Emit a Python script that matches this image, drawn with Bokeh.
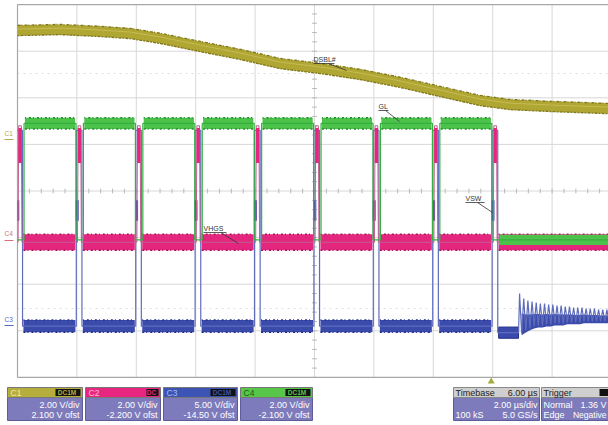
import numpy as np
from bokeh.plotting import figure
from bokeh.models import Range1d, Label
from bokeh.embed import file_html
from bokeh.resources import INLINE

# ---------------- data ----------------
channels    = ["C1", "C2", "C3", "C4"]
ch_vdiv     = [2.00, 2.00, 5.00, 2.00]          # V/div
ch_ofst     = [2.100, -2.200, -14.50, -2.100]   # V offset
ch_coupl    = ["DC1M", "DC", "DC1M", "DC1M"]
ch_vdiv_txt = ["2.00 V/div", "2.00 V/div", "5.00 V/div", "2.00 V/div"]
ch_ofst_txt = ["2.100 V ofst", "-2.200 V ofst", "-14.50 V ofst", "-2.100 V ofst"]

time_per_div_us = 2.0
n_div_x, n_div_y = 10, 8

tb_delay_txt, tb_div_txt, tb_samples_txt, tb_rate_txt = "6.00 µs", "2.00 µs/div", "100 kS", "5.0 GS/s"
trig_mode_txt, trig_level_txt, trig_type_txt, trig_slope_txt = "Normal", "1.36 V", "Edge", "Negative"
trigger_time_us = 16.0

# switching instants (µs)
switch_t = [0.0, 2.0, 4.0, 6.0, 8.0, 10.0, 12.0, 14.0, 16.0]

# C1 : DSBL#  (V)
dsbl_t = [0.0, 1.45, 2.79, 3.80, 4.81, 6.16, 7.51, 8.85, 10.2, 11.55, 12.9, 14.24, 15.59, 16.6, 17.95, 19.9]
dsbl_v = [4.79, 4.83, 4.75, 4.66, 4.45, 4.10, 3.76, 3.37, 3.16, 2.90, 2.56, 2.17, 1.78, 1.61, 1.53, 1.44]

# C4 : GL (V)  low, high
gl_levels_v = [0.0, 5.0]
# C2 : VHGS (V) baseline, spike
vhgs_levels_v = [0.0, 5.0]
vhgs_blob_v = [3.4, 4.9]
# C3 : VSW (V) low, plateau, peak
vsw_levels_v = [0.0, 12.5, 21.0]
vsw_off_v = -0.7
ring_start_us = 16.87
ring_period_us = 0.14
ring_peak_v   = [3.5, 2.97, 2.75, 2.64, 2.54, 2.43, 2.43, 2.32, 2.32, 2.21, 2.21,
                 2.11, 2.11, 2.0, 2.0, 2.0, 1.89, 1.89, 1.89, 1.78, 1.78, 1.78]
ring_trough_v = [-0.79, -0.47, -0.25, -0.04, 0.06, 0.06, 0.17, 0.17, 0.28, 0.28, 0.28,
                 0.39, 0.39, 0.39, 0.39, 0.5, 0.5, 0.5, 0.5, 0.5, 0.5, 0.5]

# timing of edges relative to each switching instant (µs)
GL_FALL, GL_RISE = -0.03, 0.22
SW_RISE, SW_FALL = -0.02, 0.17
HG_RISE, HG_FALL = 0.02, 0.15
T_END = 19.9

# ---------------- helpers ----------------
def pos(v, ch):
    return (np.asarray(v, dtype=float) + ch_ofst[ch]) / ch_vdiv[ch]

PX_X0, PX_PER_US = 17.0, 29.7
PX_Y0, PX_PER_DIV = 190.5, 46.6
def sx(px):
    return (px - PX_X0) / PX_PER_US
def sy(py):
    return (PX_Y0 - py) / PX_PER_DIV

W, H = 608, 425
p = figure(width=W, height=H, x_range=Range1d(sx(0), sx(W)),
           y_range=Range1d(sy(H), sy(0)), min_border=0,
           toolbar_location=None, output_backend="svg",
           x_axis_location=None, y_axis_location=None)
p.grid.visible = False
p.outline_line_color = None
p.background_fill_color = "white"
p.border_fill_color = "white"

FONT = "Liberation Sans"
def lab(px, py, text, size=9, color="white", align="left", bold=False):
    p.add_layout(Label(x=sx(px), y=sy(py), text=text, text_font=FONT,
                       text_font_size=f"{size}px", text_color=color,
                       text_align=align, text_baseline="middle",
                       text_font_style="bold" if bold else "normal"))

# ---------------- graticule ----------------
x_end = n_div_x * time_per_div_us
half_y = n_div_y / 2
gx = [i * time_per_div_us for i in range(1, n_div_x)]
p.segment(x0=gx, y0=[-half_y] * len(gx), x1=gx, y1=[half_y] * len(gx),
          line_color="#d8d8d8", line_width=1)
gy = [float(j) for j in range(-int(half_y) + 1, int(half_y))]
p.segment(x0=[0] * len(gy), y0=gy, x1=[x_end] * len(gy), y1=gy,
          line_color="#d8d8d8", line_width=1)
# faint dotted reference lines
p.segment(x0=[0, 0], y0=[sy(73), sy(308)], x1=[x_end, x_end], y1=[sy(73), sy(308)],
          line_color="#dedede", line_width=1, line_dash="2 4")
# centre ticks
tx = list(np.arange(0, x_end + 0.01, time_per_div_us / 5))
p.segment(x0=tx, y0=[-0.05] * len(tx), x1=tx, y1=[0.05] * len(tx), line_color="#b8b8b8")
ty = list(np.arange(-half_y, half_y + 0.01, 0.2))
p.segment(x0=[x_end / 2 - 0.08] * len(ty), y0=ty, x1=[x_end / 2 + 0.08] * len(ty), y1=ty,
          line_color="#b8b8b8")
# frame border
p.segment(x0=[0, 0, 0], y0=[-half_y, -half_y, half_y], x1=[0, x_end, x_end],
          y1=[half_y, -half_y, half_y], line_color="#a8a8a8", line_width=1.2)

# ---------------- C1 DSBL# ----------------
C1_COL, C1_EDGE = "#b0a634", "#7f7718"
mid1 = pos(dsbl_v, 0)
p.varea(x=dsbl_t, y1=mid1 - 0.11, y2=mid1 + 0.11, fill_color=C1_COL)
p.line(dsbl_t, mid1 + 0.11, line_color=C1_EDGE, line_width=1.3, line_dash="3 1 1 2")
p.line(dsbl_t, mid1 - 0.11, line_color=C1_EDGE, line_width=1.3, line_dash="2 1 3 1")
p.line(dsbl_t, mid1 + 0.03, line_color="#c6bc52", line_width=1)

# ---------------- C3 VSW ----------------
C3_COL, C3_EDGE, C3_LINE = "#3b4bab", "#222f86", "#5f6cbc"
last = len(switch_t) - 1
lo_sw, mid_sw, pk_sw = vsw_levels_v
sw_t, sw_v = [], []
for k, tk in enumerate(switch_t):
    tr, tf = tk + SW_RISE, tk + SW_FALL
    if tr >= 0:
        sw_t += [tr, tr]
        sw_v += [lo_sw, pk_sw]
    else:
        sw_t += [0.0]
        sw_v += [pk_sw]
    after = vsw_off_v if k == last else lo_sw
    sw_t += [tf, tf]
    sw_v += [pk_sw, after]
sw_t += [ring_start_us]
sw_v += [vsw_off_v]
rt_pk, rt_tr = [], []
for i, (a, b) in enumerate(zip(ring_peak_v, ring_trough_v)):
    t0 = ring_start_us + i * ring_period_us
    rt_pk.append(t0 + 0.25 * ring_period_us)
    rt_tr.append(t0 + 0.75 * ring_period_us)
    sw_t += [rt_pk[-1], rt_tr[-1]]
    sw_v += [a, b]

# low bands
bl = [tk + SW_FALL + 0.03 for tk in switch_t[:-1]]
br = [tk + SW_RISE - 0.03 for tk in switch_t[1:]]
bl[0] = max(bl[0], 0.0)
ylo3 = float(pos(lo_sw, 2))
p.quad(left=bl, right=br, bottom=[ylo3 - 0.13] * len(bl),
       top=[ylo3 + 0.13] * len(bl), fill_color=C3_COL, line_color=None)
p.segment(x0=bl, y0=[ylo3 + 0.13] * len(bl), x1=br, y1=[ylo3 + 0.13] * len(bl),
          line_color=C3_EDGE, line_width=1.5, line_dash="1 3 2 2")
p.segment(x0=bl, y0=[ylo3 - 0.13] * len(bl), x1=br, y1=[ylo3 - 0.13] * len(bl),
          line_color=C3_EDGE, line_width=1.5, line_dash="2 2 1 3")
p.quad(left=[switch_t[-1] + SW_FALL + 0.03], right=[ring_start_us],
       bottom=[float(pos(vsw_off_v, 2)) - 0.12], top=[float(pos(vsw_off_v, 2)) + 0.12],
       fill_color=C3_COL, line_color=C3_EDGE)
ring_mid = [(a + b) / 2 for a, b in zip(ring_peak_v, ring_trough_v)]
p.varea(x=rt_tr, y1=pos(ring_trough_v, 2) - 0.04, y2=pos(ring_mid, 2), fill_color=C3_COL)
p.line(sw_t, pos(sw_v, 2), line_color=C3_LINE, line_width=1.2)
# plateau blob on rising edges
p.quad(left=[max(tk + SW_RISE - 0.02, 0) for tk in switch_t],
       right=[tk + SW_RISE + 0.08 for tk in switch_t],
       bottom=[float(pos(mid_sw - 1.2, 2))] * len(switch_t),
       top=[float(pos(mid_sw + 1.0, 2))] * len(switch_t), fill_color=C3_COL, line_color=None)

# ---------------- C2 VHGS ----------------
C2_COL, C2_EDGE = "#e4267e", "#a8145a"
base_hg, pk_hg = vhgs_levels_v
hg_t, hg_v = [0.0], [base_hg]
for tk in switch_t:
    hg_t += [tk + HG_RISE, tk + HG_RISE + 0.02, tk + HG_FALL - 0.02, tk + HG_FALL]
    hg_v += [base_hg, pk_hg, pk_hg, base_hg]
hg_t.append(T_END)
hg_v.append(base_hg)
pl = [tk + 0.2 for tk in switch_t]
pr = [tk - 0.05 for tk in switch_t[1:]] + [T_END]
yb = float(pos(base_hg, 1))
p.quad(left=pl, right=pr, bottom=[yb - 0.17] * len(pl), top=[yb + 0.17] * len(pl),
       fill_color=C2_COL, line_color=None)
p.segment(x0=pl, y0=[yb + 0.17] * len(pl), x1=pr, y1=[yb + 0.17] * len(pl),
          line_color=C2_EDGE, line_width=1.5, line_dash="1 3 2 2")
p.segment(x0=pl, y0=[yb - 0.17] * len(pl), x1=pr, y1=[yb - 0.17] * len(pl),
          line_color=C2_EDGE, line_width=1.5, line_dash="2 2 1 3")
p.line(hg_t, pos(hg_v, 1), line_color="#c06090", line_width=1)
p.quad(left=[tk + HG_RISE + 0.01 for tk in switch_t], right=[tk + HG_FALL - 0.01 for tk in switch_t],
       bottom=[float(pos(vhgs_blob_v[0], 1))] * len(switch_t),
       top=[float(pos(vhgs_blob_v[1], 1))] * len(switch_t), fill_color=C2_COL, line_color=None)

# ---------------- C4 GL ----------------
C4_COL, C4_EDGE = "#4cc24a", "#1f8a2c"
lo_gl, hi_gl = gl_levels_v
gl_t, gl_v = [0.0], [lo_gl]
for k, tk in enumerate(switch_t):
    if k > 0:
        gl_t += [tk + GL_FALL, tk + GL_FALL]
        gl_v += [hi_gl, lo_gl]
    if k < last:
        gl_t += [tk + GL_RISE, tk + GL_RISE]
        gl_v += [lo_gl, hi_gl]
gl_t.append(T_END)
gl_v.append(lo_gl)
gll = [tk + GL_RISE + 0.03 for tk in switch_t[:-1]]
glr = [tk + GL_FALL - 0.03 for tk in switch_t[1:]]
yh = float(pos(hi_gl, 3))
p.quad(left=gll, right=glr, bottom=[yh - 0.12] * len(gll), top=[yh + 0.12] * len(gll),
       fill_color=C4_COL, line_color=None)
p.segment(x0=gll, y0=[yh + 0.12] * len(gll), x1=glr, y1=[yh + 0.12] * len(gll),
          line_color=C4_EDGE, line_width=1.5, line_dash="1 3 2 2")
p.segment(x0=gll, y0=[yh - 0.12] * len(gll), x1=glr, y1=[yh - 0.12] * len(gll),
          line_color=C4_EDGE, line_width=1.5, line_dash="2 2 1 3")
yl = float(pos(lo_gl, 3))
p.quad(left=[switch_t[-1] + GL_RISE], right=[T_END], bottom=[yl - 0.11], top=[yl + 0.11],
       fill_color=C4_COL, line_color=None)
p.line(gl_t, pos(gl_v, 3), line_color="#34b040", line_width=1.2)

# ---------------- annotations ----------------
TXT = "#353535"
def note(px, py, text, ux1, lx, ly):
    lab(px, py, text, size=7, color=TXT)
    p.segment(x0=[sx(px)], y0=[sy(py + 4)], x1=[sx(ux1)], y1=[sy(py + 4)], line_color=TXT, line_width=0.8)
    p.segment(x0=[sx(lx[0])], y0=[sy(ly[0])], x1=[sx(lx[1])], y1=[sy(ly[1])], line_color=TXT, line_width=0.8)

note(313, 59, "DSBL#", 334, (328, 346), (63, 70))
note(378, 106, "GL", 388, (385, 399), (110, 121))
note(203, 228, "VHGS", 226, (220, 238), (232, 243))
note(465, 198, "VSW", 484, (477, 492), (202, 212))

# channel markers at left edge
lab(4, 133, "C1", size=6.5, color="#b4a852")
p.segment(x0=[sx(4)], y0=[sy(139)], x1=[sx(13)], y1=[sy(139)], line_color="#b4a852", line_width=1)
lab(4, 233, "C4", size=6.5, color="#d8707a")
p.segment(x0=[sx(4)], y0=[sy(240)], x1=[sx(13)], y1=[sy(240)], line_color="#d8707a", line_width=1)
lab(4, 319, "C3", size=6.5, color="#5868c0")
p.segment(x0=[sx(4)], y0=[sy(325)], x1=[sx(13)], y1=[sy(325)], line_color="#5868c0", line_width=1)

# trigger marker
p.scatter(x=[trigger_time_us - 0.05], y=[sy(381)], marker="triangle", size=7,
          fill_color="#a3ac3c", line_color=None)

# ---------------- info boxes ----------------
BODY = "#7d7bbb"
HDR_T, HDR_B, BODY_B = 387, 397, 420
R1, R2, RH = 404, 414, 392
hdr_cols = ["#b5ad3c", "#e8267f", "#3c55b4", "#58c648"]
hdr_txt = ["#efe8a8", "#ffc0dc", "#a8b8f0", "#1c5a1c"]
box_x = [(7, 82), (85, 160), (163, 237), (240, 312)]
for i, (x0, x1) in enumerate(box_x):
    p.quad(left=[sx(x0)], right=[sx(x1)], bottom=[sy(BODY_B)], top=[sy(HDR_B)],
           fill_color=BODY, line_color="#5e5c98")
    p.quad(left=[sx(x0)], right=[sx(x1)], bottom=[sy(HDR_B)], top=[sy(HDR_T)],
           fill_color=hdr_cols[i], line_color="#777777")
    tw = 27 if ch_coupl[i] == "DC1M" else 14
    p.quad(left=[sx(x1 - tw)], right=[sx(x1 - 2)], bottom=[sy(HDR_B - 1.5)], top=[sy(HDR_T + 1.5)],
           fill_color="#111111", line_color=None)
    lab(x1 - tw / 2 - 2, RH, ch_coupl[i], size=6.5, color=hdr_cols[i], align="center", bold=True)
    lab(x0 + 3, RH, channels[i], size=8.5, color=hdr_txt[i])
    lab(x1 - 3, R1, ch_vdiv_txt[i], size=9, align="right")
    lab(x1 - 3, R2, ch_ofst_txt[i], size=9, align="right")

# Timebase
tb0, tb1 = 453, 539
p.quad(left=[sx(tb0)], right=[sx(tb1)], bottom=[sy(BODY_B)], top=[sy(HDR_B)], fill_color=BODY, line_color="#5e5c98")
p.quad(left=[sx(tb0)], right=[sx(tb1)], bottom=[sy(HDR_B)], top=[sy(HDR_T)], fill_color="#cfcfcf", line_color="#888888")
lab(tb0 + 2, RH, "Timebase", size=9, color="#222222")
lab(tb1 - 2, RH, tb_delay_txt, size=9, color="#222222", align="right")
lab(tb1 - 2, R1, tb_div_txt, size=9, align="right")
lab(tb0 + 2, R2, tb_samples_txt, size=9)
lab(tb1 - 2, R2, tb_rate_txt, size=9, align="right")

# Trigger
tr0, tr1 = 541, 640
p.quad(left=[sx(tr0)], right=[sx(tr1)], bottom=[sy(BODY_B)], top=[sy(HDR_B)], fill_color=BODY, line_color="#5e5c98")
p.quad(left=[sx(tr0)], right=[sx(tr1)], bottom=[sy(HDR_B)], top=[sy(HDR_T)], fill_color="#cfcfcf", line_color="#888888")
p.quad(left=[sx(599)], right=[sx(614)], bottom=[sy(HDR_B - 1.5)], top=[sy(HDR_T + 1.5)], fill_color="#111111", line_color=None)
lab(tr0 + 2, RH, "Trigger", size=9, color="#222222")
lab(tr0 + 2, R1, trig_mode_txt, size=9)
lab(606, R1, trig_level_txt, size=9, align="right")
lab(tr0 + 2, R2, trig_type_txt, size=9)
lab(606, R2, trig_slope_txt, size=8.5, align="right")

open("out.html", "w").write(file_html(p, INLINE))
